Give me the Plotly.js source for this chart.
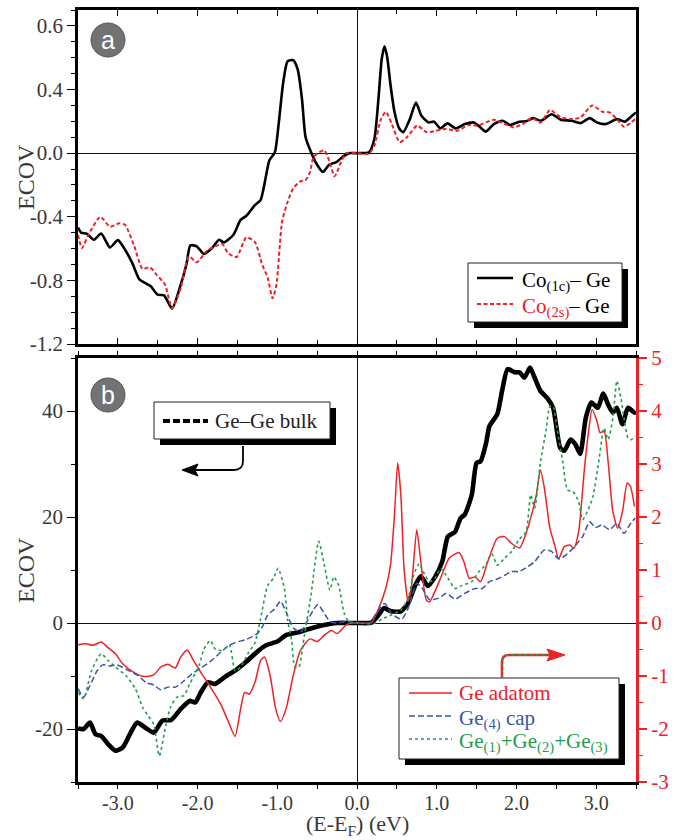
<!DOCTYPE html>
<html>
<head>
<meta charset="utf-8">
<script src="https://cdn.plot.ly/plotly-3.0.1.min.js"></script>
<style>
  html, body { margin: 0; padding: 0; background: #fff; }
  #chart { width: 675px; height: 840px; }
</style>
</head>
<body>
<div id="chart"></div>
<script>
// ---------------- Panel (a): ECOV of Co-Ge bonds ----------------
const energyCo1c = [-3.5,-3.46,-3.39,-3.30,-3.21,-3.10,-3.00,-2.91,-2.82,-2.73,-2.66,-2.59,-2.50,-2.42,-2.32,-2.21,-2.14,-2.09,-2.01,-1.92,-1.82,-1.73,-1.67,-1.55,-1.46,-1.39,-1.28,-1.21,-1.14,-1.10,-1.03,-0.985,-0.926,-0.87,-0.80,-0.744,-0.69,-0.645,-0.576,-0.508,-0.427,-0.35,-0.259,-0.168,-0.10,0,0.15,0.218,0.272,0.31,0.345,0.38,0.42,0.47,0.53,0.58,0.663,0.74,0.808,0.899,0.967,1.044,1.135,1.239,1.353,1.466,1.534,1.616,1.716,1.829,1.92,2.034,2.124,2.206,2.306,2.442,2.556,2.692,2.805,2.919,3.01,3.123,3.26,3.359,3.44,3.5];
const ecovCo1c = [-0.468,-0.50,-0.507,-0.545,-0.505,-0.593,-0.547,-0.607,-0.69,-0.794,-0.815,-0.836,-0.89,-0.894,-0.977,-0.825,-0.70,-0.58,-0.586,-0.634,-0.597,-0.545,-0.561,-0.513,-0.42,-0.395,-0.326,-0.295,-0.139,-0.046,0.006,0.173,0.443,0.578,0.584,0.526,0.339,0.10,0.006,-0.067,-0.119,-0.073,-0.056,-0.019,0,0,0.006,0.089,0.36,0.59,0.672,0.60,0.43,0.26,0.155,0.131,0.214,0.318,0.235,0.193,0.198,0.156,0.187,0.156,0.183,0.193,0.168,0.135,0.183,0.204,0.177,0.198,0.20,0.22,0.204,0.245,0.21,0.204,0.189,0.22,0.193,0.183,0.214,0.198,0.231,0.256];

const energyCo2s = [-3.5,-3.45,-3.37,-3.22,-3.10,-2.98,-2.91,-2.80,-2.69,-2.60,-2.51,-2.41,-2.32,-2.21,-2.11,-2.01,-1.89,-1.78,-1.69,-1.62,-1.51,-1.39,-1.28,-1.19,-1.12,-1.06,-1.01,-0.94,-0.87,-0.80,-0.71,-0.645,-0.59,-0.545,-0.472,-0.409,-0.35,-0.281,-0.20,-0.136,0,0.15,0.218,0.30,0.363,0.436,0.536,0.626,0.754,0.876,0.99,1.103,1.262,1.398,1.512,1.716,1.852,1.966,2.079,2.192,2.306,2.42,2.556,2.692,2.805,2.95,3.078,3.168,3.26,3.35,3.44,3.5];
const ecovCo2s = [-0.514,-0.597,-0.514,-0.40,-0.462,-0.441,-0.451,-0.576,-0.728,-0.717,-0.767,-0.825,-0.975,-0.846,-0.649,-0.686,-0.617,-0.586,-0.572,-0.628,-0.653,-0.53,-0.559,-0.70,-0.784,-0.913,-0.825,-0.43,-0.306,-0.222,-0.177,-0.17,-0.119,-0.025,0.006,0.017,-0.046,-0.146,-0.056,0,0,-0.004,0.048,0.214,0.26,0.183,0.069,0.10,0.173,0.131,0.141,0.152,0.141,0.177,0.173,0.21,0.183,0.162,0.183,0.22,0.193,0.272,0.225,0.214,0.225,0.30,0.26,0.256,0.214,0.166,0.193,0.218];

// ---------------- Panel (b): Ge-Ge bonds ----------------
// left axis
const energyBulk = [-3.5,-3.43,-3.35,-3.28,-3.21,-3.12,-3.03,-2.94,-2.85,-2.76,-2.64,-2.55,-2.44,-2.33,-2.21,-2.10,-2.03,-1.96,-1.87,-1.78,-1.66,-1.53,-1.39,-1.25,-1.14,-1.00,-0.89,-0.75,-0.59,-0.43,-0.25,0,0.18,0.25,0.34,0.43,0.55,0.64,0.73,0.80,0.89,0.98,1.07,1.14,1.23,1.30,1.35,1.44,1.50,1.55,1.62,1.66,1.76,1.82,1.89,1.98,2.04,2.10,2.17,2.22,2.30,2.39,2.46,2.55,2.60,2.68,2.74,2.80,2.87,2.94,3.02,3.09,3.15,3.21,3.26,3.33,3.40,3.48,3.5];
const ecovBulk = [-19.9,-20.0,-18.8,-21.0,-21.3,-22.9,-24.1,-23.5,-21.0,-18.8,-19.9,-20.7,-18.4,-18.3,-16.2,-14.7,-15.0,-13.1,-11.2,-11.5,-10.2,-9.0,-7.3,-5.4,-4.2,-3.5,-2.3,-1.8,-1.07,-0.44,0,0,0.06,1.1,2.8,2.2,2.2,3.7,7.1,8.8,7.0,8.7,11.6,16.3,17.2,19.8,20.4,24.2,30.2,30.5,34.0,37.1,39.4,43.8,47.9,47.3,47.3,46.3,48.2,46.6,43.8,42.4,40.6,33.0,32.5,34.6,33.7,31.9,38.7,41.6,40.6,43.3,41.2,39.7,40.6,37.5,40.6,39.7,39.9];
// right axis
const energyAdatom = [-3.5,-3.40,-3.31,-3.21,-3.12,-3.03,-2.94,-2.80,-2.67,-2.55,-2.46,-2.37,-2.28,-2.21,-2.13,-2.05,-1.96,-1.85,-1.71,-1.62,-1.53,-1.46,-1.41,-1.35,-1.28,-1.21,-1.16,-1.09,-1.02,-0.96,-0.89,-0.80,-0.71,-0.59,-0.50,-0.41,-0.32,-0.25,-0.14,-0.07,0,0.18,0.27,0.36,0.42,0.47,0.51,0.55,0.59,0.64,0.68,0.75,0.80,0.87,0.91,1.03,1.16,1.28,1.34,1.41,1.48,1.55,1.64,1.76,1.85,1.94,2.04,2.12,2.19,2.25,2.30,2.35,2.42,2.48,2.53,2.60,2.67,2.72,2.78,2.85,2.90,2.95,3.01,3.05,3.10,3.15,3.21,3.27,3.33,3.39,3.43,3.48];
const ecovAdatom = [-0.41,-0.39,-0.42,-0.36,-0.47,-0.58,-0.77,-0.93,-1.01,-0.98,-0.83,-0.78,-0.85,-0.64,-0.51,-0.71,-0.93,-1.18,-1.53,-1.84,-2.14,-1.62,-1.31,-1.34,-1.12,-0.71,-0.64,-0.99,-1.62,-1.86,-1.62,-0.99,-0.52,-0.30,-0.35,-0.23,-0.14,-0.20,-0.04,0,0,0.006,0.27,0.65,1.09,2.04,3.02,2.42,1.03,0.41,0.65,1.76,1.16,0.43,0.40,0.78,1.23,1.33,1.16,0.84,0.87,0.78,1.16,1.60,1.63,1.50,1.42,1.69,2.04,2.42,2.89,2.55,1.79,1.47,1.21,1.44,1.47,1.41,1.72,2.86,3.56,4.03,3.81,3.59,3.62,3.05,2.10,1.79,2.10,2.64,2.58,2.20];

const energyCap = [-3.5,-3.43,-3.35,-3.26,-3.19,-3.10,-3.01,-2.90,-2.76,-2.64,-2.55,-2.46,-2.37,-2.28,-2.17,-2.07,-1.96,-1.85,-1.73,-1.62,-1.53,-1.39,-1.25,-1.19,-1.12,-1.03,-0.96,-0.89,-0.80,-0.71,-0.62,-0.55,-0.49,-0.41,-0.34,-0.25,-0.14,0,0.16,0.25,0.35,0.43,0.56,0.64,0.75,0.82,0.91,1.03,1.12,1.23,1.35,1.48,1.57,1.66,1.76,1.85,1.94,2.03,2.14,2.23,2.35,2.44,2.53,2.62,2.71,2.83,2.92,2.99,3.07,3.17,3.26,3.35,3.42,3.49];
const ecovCap = [-1.24,-1.40,-1.18,-0.90,-0.79,-0.81,-0.79,-0.87,-0.98,-1.13,-1.17,-1.26,-1.21,-1.21,-1.09,-0.96,-0.85,-0.74,-0.58,-0.44,-0.37,-0.31,-0.20,-0.08,0.15,0.27,0.41,0.21,-0.09,-0.17,0.05,0.24,0.35,0.18,0.03,0,0.03,0,0,0.21,0.37,0.18,0.07,0.27,0.75,0.65,0.44,0.47,0.56,0.45,0.56,0.65,0.65,0.78,0.83,0.90,0.97,0.97,1.06,1.16,1.38,1.35,1.21,1.28,1.41,1.63,1.91,1.80,1.85,1.76,1.88,1.69,1.85,1.98];

const energySum123 = [-3.5,-3.43,-3.33,-3.21,-3.12,-3.03,-2.90,-2.78,-2.69,-2.62,-2.55,-2.48,-2.40,-2.34,-2.26,-2.17,-2.10,-1.98,-1.92,-1.84,-1.78,-1.69,-1.60,-1.53,-1.46,-1.37,-1.28,-1.21,-1.12,-1.05,-0.99,-0.91,-0.87,-0.82,-0.78,-0.73,-0.66,-0.58,-0.48,-0.41,-0.34,-0.29,-0.23,-0.16,-0.09,0,0.21,0.32,0.43,0.55,0.64,0.71,0.78,0.83,0.91,0.98,1.05,1.14,1.23,1.32,1.44,1.53,1.62,1.69,1.76,1.85,1.94,2.03,2.12,2.18,2.23,2.30,2.37,2.42,2.46,2.51,2.58,2.64,2.71,2.78,2.83,2.90,2.96,3.03,3.10,3.15,3.21,3.26,3.31,3.35,3.40,3.44,3.49];
const ecovSum123 = [-1.31,-1.43,-0.90,-0.58,-0.71,-0.83,-0.99,-1.24,-1.59,-1.75,-1.91,-2.51,-1.94,-1.59,-1.40,-1.37,-1.15,-0.80,-0.49,-0.33,-0.49,-0.52,-0.42,-0.90,-0.83,-0.58,-0.37,0.08,0.71,0.84,1.03,0.65,0.05,-0.33,-0.83,-0.83,-0.23,0.49,1.54,1.09,0.62,0.87,0.71,0.18,0,0,-0.01,0.08,0.15,0.24,0.46,0.90,1.12,0.97,0.78,0.85,1.03,0.85,0.65,0.71,0.78,0.97,1.11,1.31,1.09,1.22,1.35,1.57,1.72,2.42,2.17,3.02,3.62,4.09,4.09,3.65,3.05,2.51,2.48,2.29,1.95,2.14,2.39,3.02,3.68,3.46,3.87,4.57,4.25,3.87,3.49,3.46,3.53];

// ---------------- Tick labels & texts ----------------
const xTickVals = [-3, -2, -1, 0, 1, 2, 3];
const xTickText = ['-3.0', '-2.0', '-1.0', '0.0', '1.0', '2.0', '3.0'];
const yaTickVals = [-1.2, -0.8, -0.4, 0, 0.4, 0.8];
const yaTickText = ['-1.2', '-0.8', '-0.4', '0.0', '0.4', '0.6'];
const ybTickVals = [-20, 0, 20, 40];
const ybTickText = ['-20', '0', '20', '40'];
const ycTickVals = [-3, -2, -1, 0, 1, 2, 3, 4, 5];
const ycTickText = ['-3', '-2', '-1', '0', '1', '2', '3', '4', '5'];
const yTitle = 'ECOV';
const xTitle = '(E-E<sub>F</sub>) (eV)';

const RED = '#ec2227', BLUE = '#3a55a4', GREEN = '#1f9e4a', INK = '#383838';
const SERIF = 'Liberation Serif';
const SANS = 'Liberation Sans';

const seriesNames = {
  co1c: 'Co<sub>(1c)</sub>– Ge',
  co2s: '<span style="color:' + RED + '">Co<sub>(2s)</sub></span>– Ge',
  bulk: 'Ge–Ge bulk',
  adatom: '<span style="color:' + RED + '">Ge adatom</span>',
  cap: '<span style="color:' + BLUE + '">Ge<sub>(4)</sub> cap</span>',
  sum123: '<span style="color:' + GREEN + '">Ge<sub>(1)</sub>+Ge<sub>(2)</sub>+Ge<sub>(3)</sub></span>'
};

const lineCo1c = { color: '#000', width: 2.6 };
const lineCo2s = { color: RED, width: 2, dash: '4px,2.5px' };
const lineBulk = { color: '#000', width: 4.6 };
const lineBulkKey = { color: '#000', width: 4, dash: '7px,3px' };
const lineAdatom = { color: RED, width: 1.5 };
const lineCap = { color: BLUE, width: 1.5, dash: '6px,3px' };
const lineSum = { color: GREEN, width: 1.6, dash: 'dot' };

const spl = l => Object.assign({ shape: 'spline', smoothing: 0.6 }, l);

const traces = [
  { x: energyCo1c, y: ecovCo1c, xaxis: 'x', yaxis: 'y', mode: 'lines', name: seriesNames.co1c, line: spl(lineCo1c) },
  { x: energyCo2s, y: ecovCo2s, xaxis: 'x', yaxis: 'y', mode: 'lines', name: seriesNames.co2s, line: spl(lineCo2s) },
  { x: energyBulk, y: ecovBulk, xaxis: 'x2', yaxis: 'y2', mode: 'lines', name: seriesNames.bulk, line: spl(lineBulk) },
  { x: energyAdatom, y: ecovAdatom, xaxis: 'x2', yaxis: 'y3', mode: 'lines', name: seriesNames.adatom, line: spl(lineAdatom) },
  { x: energyCap, y: ecovCap, xaxis: 'x2', yaxis: 'y3', mode: 'lines', name: seriesNames.cap, line: spl(lineCap) },
  { x: energySum123, y: ecovSum123, xaxis: 'x2', yaxis: 'y3', mode: 'lines', name: seriesNames.sum123, line: spl(lineSum) }
];

// pixel -> paper helpers (plot area: x 78..636, y 10..782)
const PX = p => (p - 78) / 558;
const PY = p => (782 - p) / 772;

const baseX = {
  range: [-3.5, 3.5], tickmode: 'array', tickvals: xTickVals, ticktext: xTickText,
  showline: true, linecolor: '#000', linewidth: 2.5, mirror: 'allticks',
  tickcolor: '#000', tickwidth: 1.3, ticklen: 6,
  minor: { tickmode: 'linear', tick0: 0, dtick: 0.5, ticklen: 4, tickcolor: '#000', tickwidth: 1.2 },
  showgrid: false, zeroline: true, zerolinecolor: '#111', zerolinewidth: 1
};

// ---- custom boxed legends (box, drop shadow, key lines, labels) ----
const shapes = [];
const annotations = [];
function boxedLegend(left, top, right, bottom, keyX0, keyX1, textX, rows) {
  shapes.push({ type: 'rect', xref: 'paper', yref: 'paper', layer: 'above',
    x0: PX(left + 6), x1: PX(right + 6), y0: PY(bottom + 6), y1: PY(top + 6),
    fillcolor: '#000', line: { width: 0 } });
  shapes.push({ type: 'rect', xref: 'paper', yref: 'paper', layer: 'above',
    x0: PX(left), x1: PX(right), y0: PY(bottom), y1: PY(top),
    fillcolor: '#fff', line: { color: '#222', width: 1 } });
  rows.forEach(r => {
    shapes.push({ type: 'line', xref: 'paper', yref: 'paper', layer: 'above',
      x0: PX(keyX0), x1: PX(keyX1), y0: PY(r.y), y1: PY(r.y), line: r.line });
    annotations.push({ xref: 'paper', yref: 'paper', x: PX(textX), y: PY(r.y + (r.sub ? 3 : 0)),
      xanchor: 'left', yanchor: 'middle', showarrow: false, text: r.text,
      font: { family: SERIF, size: r.size || 21, color: r.color || '#000' } });
  });
}
boxedLegend(468, 263, 622, 322, 477, 513, 520, [
  { y: 278, text: seriesNames.co1c, line: lineCo1c, sub: true },
  { y: 304, text: seriesNames.co2s, line: lineCo2s, sub: true }
]);
boxedLegend(154, 402, 330, 439, 163, 208, 213, [
  { y: 421, text: seriesNames.bulk, line: lineBulkKey, color: '#222' }
]);
boxedLegend(399, 678, 619, 759, 409, 452, 457, [
  { y: 693, text: seriesNames.adatom, line: lineAdatom },
  { y: 716, text: seriesNames.cap, line: lineCap, sub: true },
  { y: 739, text: seriesNames.sum123, line: lineSum, sub: true }
]);

// panel badges
[[40, 'a'], [395, 'b']].forEach(([cy, letter]) => {
  shapes.push({ type: 'circle', xref: 'paper', yref: 'paper', layer: 'above',
    x0: PX(91), x1: PX(125), y0: PY(cy + 17), y1: PY(cy - 17),
    fillcolor: '#727272', line: { color: '#555', width: 1 } });
  annotations.push({ xref: 'paper', yref: 'paper', x: PX(108), y: PY(cy), xanchor: 'center', yanchor: 'middle',
    text: letter, showarrow: false, font: { family: SANS, size: 25, color: '#fff' } });
});

// axis titles
annotations.push({ xref: 'paper', yref: 'paper', x: PX(26), y: PY(177), xanchor: 'center', yanchor: 'middle',
  textangle: -90, text: yTitle, showarrow: false, font: { family: SERIF, size: 24, color: INK } });
annotations.push({ xref: 'paper', yref: 'paper', x: PX(26), y: PY(570), xanchor: 'center', yanchor: 'middle',
  textangle: -90, text: yTitle, showarrow: false, font: { family: SERIF, size: 24, color: INK } });
annotations.push({ xref: 'paper', yref: 'paper', x: 0.5, y: PY(825), xanchor: 'center', yanchor: 'middle',
  borderpad: 0, text: xTitle, showarrow: false, font: { family: SERIF, size: 22, color: INK } });

// arrow pointing to the left axis (Ge-Ge bulk)
shapes.push({ type: 'path', xref: 'paper', yref: 'paper', layer: 'above',
  path: 'M' + PX(243) + ',' + PY(446) + ' L' + PX(243) + ',' + PY(461) + ' Q' + PX(243) + ',' + PY(470) + ' ' + PX(234) + ',' + PY(470) + ' L' + PX(195) + ',' + PY(470),
  line: { color: '#000', width: 1.8 } });
shapes.push({ type: 'path', xref: 'paper', yref: 'paper', layer: 'above',
  path: 'M' + PX(182) + ',' + PY(470) + ' L' + PX(198) + ',' + PY(464) + ' L' + PX(195) + ',' + PY(470) + ' L' + PX(198) + ',' + PY(476) + ' Z',
  fillcolor: '#000', line: { color: '#000', width: 1 } });
// arrow pointing to the right axis (surface Ge atoms)
const arrowPath = 'M' + PX(502) + ',' + PY(678) + ' L' + PX(502) + ',' + PY(662) + ' Q' + PX(502) + ',' + PY(655) + ' ' + PX(509) + ',' + PY(655) + ' L' + PX(550) + ',' + PY(655);
shapes.push({ type: 'path', xref: 'paper', yref: 'paper', layer: 'above', path: arrowPath, line: { color: RED, width: 2.6 } });
shapes.push({ type: 'path', xref: 'paper', yref: 'paper', layer: 'above', path: arrowPath, line: { color: GREEN, width: 1.4, dash: 'dot' } });
shapes.push({ type: 'path', xref: 'paper', yref: 'paper', layer: 'above',
  path: 'M' + PX(565) + ',' + PY(655) + ' L' + PX(547) + ',' + PY(649) + ' L' + PX(550) + ',' + PY(655) + ' L' + PX(547) + ',' + PY(661) + ' Z',
  fillcolor: RED, line: { color: RED, width: 1 } });

const tickFont = { family: SERIF, size: 21, color: INK };

const layout = {
  width: 675, height: 840,
  margin: { l: 78, r: 39, t: 10, b: 58, pad: 0 },
  paper_bgcolor: '#fff', plot_bgcolor: '#fff',
  font: { family: SERIF, size: 21, color: INK },
  showlegend: false,
  xaxis: Object.assign({}, baseX, { anchor: 'y', domain: [0, 1], ticks: 'inside', showticklabels: false,
    minor: Object.assign({}, baseX.minor, { ticks: 'inside' }) }),
  yaxis: {
    anchor: 'x', domain: [PY(344), 1], range: [-1.2, 0.9],
    tickmode: 'array', tickvals: yaTickVals, ticktext: yaTickText, tickfont: tickFont,
    ticks: 'outside', ticklen: 8, tickwidth: 1.3, tickcolor: '#000',
    minor: { tickmode: 'linear', tick0: 0, dtick: 0.1, ticks: 'outside', ticklen: 4, tickcolor: '#000', tickwidth: 1.2 },
    showline: true, linecolor: '#000', linewidth: 2.5, mirror: true,
    showgrid: false, zeroline: true, zerolinecolor: '#111', zerolinewidth: 1
  },
  xaxis2: Object.assign({}, baseX, { anchor: 'y2', domain: [0, 1], ticks: 'outside', ticklen: 4, showticklabels: true,
    ticklabelstandoff: -3,
    tickfont: { family: SERIF, size: 20, color: INK },
    minor: Object.assign({}, baseX.minor, { ticks: 'outside', ticklen: 3 }) }),
  yaxis2: {
    anchor: 'x2', domain: [0, PY(358)], range: [-30, 50],
    tickmode: 'array', tickvals: ybTickVals, ticktext: ybTickText, tickfont: tickFont,
    ticks: 'outside', ticklen: 8, tickwidth: 1.3, tickcolor: '#000',
    minor: { tickmode: 'linear', tick0: 0, dtick: 10, ticks: 'outside', ticklen: 4, tickcolor: '#000', tickwidth: 1.2 },
    showline: true, linecolor: '#000', linewidth: 2.5, mirror: false,
    showgrid: false, zeroline: true, zerolinecolor: '#111', zerolinewidth: 1
  },
  yaxis3: {
    anchor: 'x2', overlaying: 'y2', side: 'right', range: [-3, 5],
    tickmode: 'array', tickvals: ycTickVals, ticktext: ycTickText,
    tickfont: { family: SERIF, color: RED, size: 21 },
    ticks: 'outside', ticklen: 8, tickwidth: 1.5, tickcolor: RED,
    minor: { tickmode: 'linear', tick0: 0, dtick: 0.5, ticks: 'outside', ticklen: 4, tickcolor: RED, tickwidth: 1.3 },
    showline: true, linecolor: RED, linewidth: 3.2,
    showgrid: false, zeroline: false
  },
  shapes: shapes,
  annotations: annotations
};

Plotly.newPlot('chart', traces, layout, { displayModeBar: false, responsive: false });
</script>
</body>
</html>
